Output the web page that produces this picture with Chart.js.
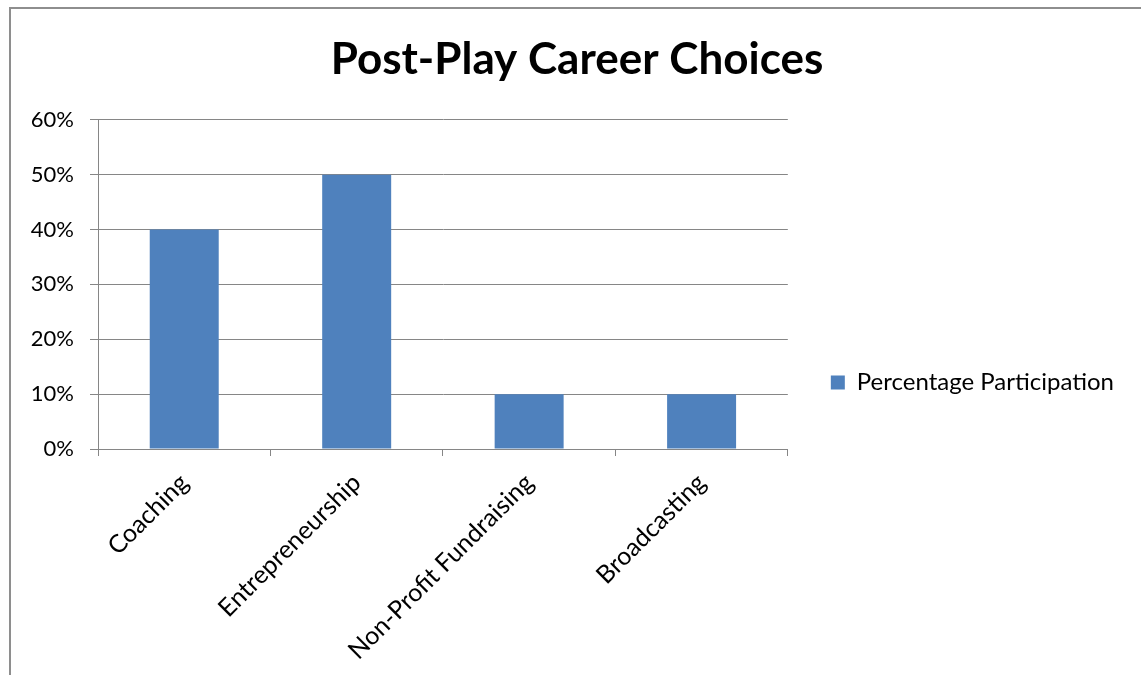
<!DOCTYPE html>
<html>
<head>
<meta charset="utf-8">
<script src="https://cdn.jsdelivr.net/npm/chart.js"></script>
<style>
  html, body { margin: 0; padding: 0; background: #fff; }
  #wrap { position: relative; width: 1141px; height: 675px; overflow: hidden; }
  #frame { position: absolute; left: 9px; top: 7px; right: -5px; bottom: -5px;
           border-left: 2px solid #8e8e8e; border-top: 2px solid #8e8e8e; }
  #chart { position: absolute; left: 0; top: 0; }
</style>
</head>
<body>
<div id="wrap">
  <div id="frame"></div>
  <canvas id="chart" width="1141" height="675"></canvas>
</div>
<script>
// --------------------------
// Chart data
// --------------------------
const categories = ['Coaching', 'Entrepreneurship', 'Non-Profit Fundraising', 'Broadcasting'];
const participation = [0.40, 0.50, 0.10, 0.10];
const seriesName = 'Percentage Participation';
const yTicks = [0, 0.1, 0.2, 0.3, 0.4, 0.5, 0.6];

const FONT = 'Lato, Calibri, Carlito, sans-serif';
const GRID = '#868686';

const ctx = document.getElementById('chart').getContext('2d');

new Chart(ctx, {
  type: 'bar',
  data: {
    labels: categories,
    datasets: [{
      label: seriesName,
      data: participation,
      backgroundColor: '#4f81bd',
      borderWidth: 0,
      categoryPercentage: 1,
      barPercentage: 0.4
    }]
  },
  options: {
    responsive: false,
    animation: false,
    layout: { padding: { left: 30, right: 17, top: 18, bottom: 0 } },
    plugins: {
      title: {
        display: true,
        text: 'Post-Play Career Choices',
        color: '#000',
        font: { family: FONT, size: 44, weight: 'bold' },
        padding: { top: 15, bottom: 34 }
      },
      legend: {
        position: 'right',
        align: 'start',
        maxWidth: 420,
        // empty title only used to push the single item down
        title: { display: true, text: '', font: { size: 12 }, padding: { top: 295, bottom: 0 } },
        labels: {
          color: '#000',
          font: { family: FONT, size: 24 },
          boxWidth: 14,
          boxHeight: 14,
          padding: 43
        }
      },
      tooltip: { enabled: false }
    },
    scales: {
      y: {
        min: 0,
        max: 0.6,
        afterBuildTicks: (axis) => { axis.ticks = yTicks.map(v => ({ value: v })); },
        afterFit: (axis) => { axis.width = 68; },
        ticks: {
          color: '#000',
          font: { family: FONT, size: 22 },
          padding: 16,
          callback: (v) => Math.round(v * 100) + '%'
        },
        grid: { color: GRID, lineWidth: 1, tickLength: 8 },
        border: { color: GRID, width: 1 }
      },
      x: {
        afterFit: (axis) => { axis.height = 226; },
        ticks: {
          color: '#000',
          font: { family: FONT, size: 25 },
          minRotation: 45,
          maxRotation: 45,
          padding: 12
        },
        grid: { drawOnChartArea: false, drawTicks: true, tickLength: 7, color: GRID, offset: true },
        border: { color: GRID, width: 1 }
      }
    }
  }
});
</script>
</body>
</html>
